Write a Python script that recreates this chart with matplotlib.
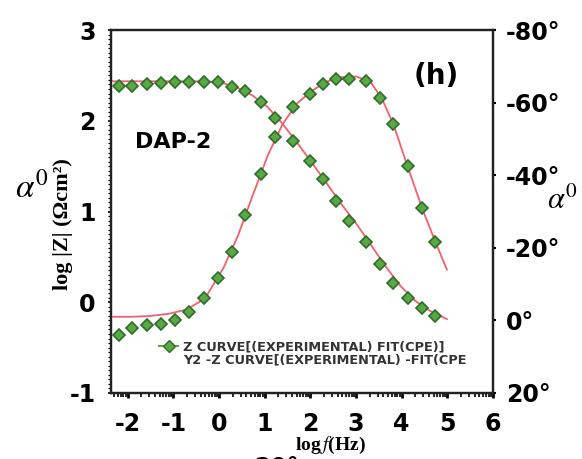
import numpy as np
import matplotlib
matplotlib.use("Agg")
import matplotlib.pyplot as plt
from matplotlib.lines import Line2D
from matplotlib.ticker import FixedLocator

plt.rcParams["mathtext.fontset"] = "stix"

# log f (Hz) of the measured points
log_f = [-2.20, -1.90, -1.57, -1.27, -0.97, -0.65, -0.32, -0.03, 0.28, 0.58,
         0.91, 1.23, 1.63, 2.00, 2.28, 2.56, 2.84, 3.21, 3.53, 3.81,
         4.13, 4.44, 4.74]
# log |Z| experimental
log_z = [2.385, 2.385, 2.410, 2.421, 2.428, 2.428, 2.428, 2.428, 2.374, 2.323,
         2.204, 2.033, 1.780, 1.552, 1.353, 1.118, 0.890, 0.665, 0.423, 0.213,
         0.043, -0.058, -0.149]
# phase angle experimental (deg)
phase = [3.9, 2.2, 1.4, 1.0, -0.1, -2.4, -6.2, -11.7, -18.9, -29.0,
         -40.4, -50.4, -58.7, -62.4, -65.2, -66.4, -66.4, -66.0, -61.4, -54.0,
         -42.4, -31.1, -21.6]

# CPE fit curves
fit_f = [-2.32, -1.92, -1.52, -1.11, -0.71, -0.31, 0.10, 0.42, 0.74, 1.07,
         1.39, 1.71, 2.04, 2.36, 2.68, 3.01, 3.33, 3.57, 3.82, 4.14,
         4.46, 4.74, 4.99]
fit_phase = [-1.0, -1.0, -1.2, -1.8, -3.0, -6.0, -14.5, -23.5, -34.5, -45.5,
             -54.0, -59.8, -63.3, -65.8, -67.0, -67.2, -65.5, -61.0, -54.0, -42.0,
             -30.5, -21.6, -14.0]
fit_zf = [-2.32, -1.52, -0.71, -0.22, 0.10, 0.42, 0.74, 1.07, 1.39, 1.71,
          2.04, 2.36, 2.68, 3.01, 3.33, 3.65, 3.98, 4.30, 4.62, 4.99]
fit_z = [2.435, 2.435, 2.435, 2.432, 2.414, 2.359, 2.276, 2.149, 1.968, 1.758,
         1.534, 1.310, 1.081, 0.864, 0.629, 0.394, 0.176, 0.014, -0.095, -0.186]

x_ticks = [-2, -1, 0, 1, 2, 3, 4, 5, 6]
z_ticks = [-1, 0, 1, 2, 3]
ph_ticks = [-80, -60, -40, -20, 0, 20]
ph_labels = ["-80°", "-60°", "-40°", "-20°", "0°", "20°"]

GREEN = "#5aa845"
GREEN_EDGE = "#2e6e2a"
RED = "#f0606e"

fig = plt.figure(figsize=(5.82, 4.59), dpi=100)
ax = fig.add_axes([0.1907, 0.1438, 0.8471 - 0.1907, 0.9346 - 0.1438])
ax2 = ax.twinx()

ax.plot(fit_zf, fit_z, color=RED, lw=1.3, zorder=2)
ax.plot(log_f, log_z, ls="none", marker="D", ms=6.5, mfc=GREEN, mec=GREEN_EDGE,
        mew=1.2, zorder=3)
ax2.plot(fit_f, fit_phase, color=RED, lw=1.3, zorder=2)
ax2.plot(log_f, phase, ls="none", marker="D", ms=6.5, mfc=GREEN, mec=GREEN_EDGE,
         mew=1.2, zorder=3)

ax.set_xlim(-2.365, 6.0)
ax.set_ylim(-1, 3)
ax2.set_ylim(20, -80)

bold = dict(family="DejaVu Sans", weight="bold", size=17)
ax.set_xticks(x_ticks)
ax.set_xticklabels([str(v) for v in x_ticks], **bold)
ax.set_yticks(z_ticks)
ax.set_yticklabels([str(v) for v in z_ticks], **bold)
ax2.set_yticks(ph_ticks)
ax2.set_yticklabels(ph_labels, **bold)

# log-style minor ticks inside each decade on the bottom axis
minor_x = [k + np.log10(m) for k in range(-3, 6) for m in range(2, 10)]
ax.xaxis.set_minor_locator(FixedLocator(minor_x))
ax.yaxis.set_minor_locator(FixedLocator(np.arange(-1, 3.001, 0.05)))

ax.tick_params(axis="x", which="major", direction="out", length=3.5, width=2, pad=10)
ax.tick_params(axis="x", which="minor", direction="out", length=3, width=1.2)
ax.tick_params(axis="y", which="major", direction="out", length=2, width=1.2, pad=9)
ax.tick_params(axis="y", which="minor", direction="out", length=2, width=0.8)
ax.tick_params(top=False, right=False)
ax2.tick_params(axis="y", direction="out", length=2.5, width=1.5, pad=7)

for a in (ax, ax2):
    for s in a.spines.values():
        s.set_linewidth(1.6)
        s.set_color("#222222")


# texts placed in pixel coordinates measured from the top
def px(x, y):
    return x / 582, 1 - y / 459


fig.text(*px(173, 142), "DAP-2", fontsize=16, weight="bold",
         ha="center", va="center")
fig.text(*px(436, 76), "(h)", fontsize=20, weight="bold",
         ha="center", va="center")

serif = dict(family="Liberation Serif", weight="bold")
fig.text(*px(63, 224), "log |Z| (Ωcm²)", rotation=90, ha="center", va="center",
         fontsize=16, **serif)
fig.text(*px(330, 445), r"log$\,f$(Hz)", ha="center", va="center", fontsize=14,
         **serif)
fig.text(*px(32, 188), r"$\alpha^{0}$", ha="center", va="center", fontsize=24)
fig.text(*px(562, 200), r"$\alpha^{0}$", ha="center", va="center", fontsize=22)
# edge of the next panel's label, cut by the bottom border
fig.text(*px(277, 468), "20°", ha="center", va="center", **bold)

handles = [Line2D([], [], color=GREEN, lw=1.5, marker="D", ms=6, mfc=GREEN,
                  mec=GREEN_EDGE),
           Line2D([], [], color="none")]
labels = ["Z CURVE[(EXPERIMENTAL) FIT(CPE)]",
          "Y2 -Z CURVE[(EXPERIMENTAL) -FIT(CPE"]
leg = ax.legend(handles, labels, loc="upper left",
                bbox_to_anchor=px(153, 334), bbox_transform=fig.transFigure,
                frameon=False, borderpad=0, handlelength=1.4, handletextpad=0.4,
                labelspacing=0.0, prop=dict(family="DejaVu Sans", weight="bold",
                                            size=9.3))
for t in leg.get_texts():
    t.set_color("#333333")

fig.savefig("out.png", dpi=100)
